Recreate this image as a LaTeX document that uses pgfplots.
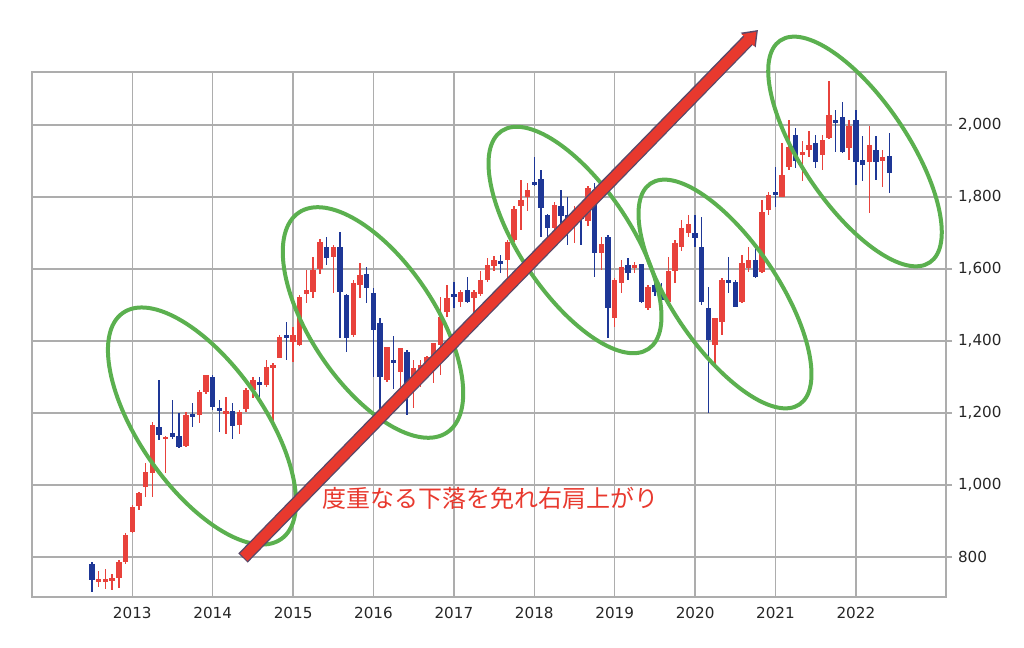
\documentclass[border=0pt]{standalone}
\usepackage{fontspec}
\setmainfont{DejaVu Sans}
\newfontfamily\jpfont{Noto Sans CJK JP}
\usepackage{pgfplots}
\pgfplotsset{compat=1.18}
\usepackage{pgfplotstable}
\usetikzlibrary{arrows.meta}

\definecolor{upred}{HTML}{E8423C}
\definecolor{downblue}{HTML}{1E3796}
\definecolor{gridgray}{HTML}{ADADAD}
\definecolor{ellgreen}{HTML}{5BB04F}
\definecolor{arrred}{HTML}{E8392E}
\definecolor{arrdark}{HTML}{5A4868}

% month index m: months since Jan 2012 (Jul 2012 = 6)
\pgfplotstableread{
m O H L C
7 732 762 718 738
8 731 768 710 740
9 734 754 708 743
10 742 791 713 786
11 786 866 780 861
12 870 944 866 940
13 941 981 930 977
14 995 1062 967 1037
15 1032 1176 967 1166
17 1127 1137 1032 1134
20 1108 1203 1106 1194
22 1194 1264 1171 1259
23 1259 1305 1254 1305
26 1199 1245 1143 1204
28 1167 1208 1143 1204
29 1210 1270 1203 1264
30 1264 1301 1241 1292
32 1278 1347 1273 1329
33 1324 1338 1176 1333
34 1354 1417 1352 1412
36 1398 1440 1342 1416
37 1389 1528 1386 1523
38 1531 1597 1505 1542
39 1537 1632 1518 1597
40 1600 1682 1585 1676
42 1634 1667 1532 1660
45 1417 1569 1412 1560
46 1555 1616 1520 1583
50 1293 1384 1287 1384
52 1315 1380 1273 1380
54 1301 1347 1213 1324
55 1320 1347 1273 1333
56 1329 1358 1296 1356
57 1338 1393 1282 1393
58 1389 1523 1305 1467
59 1481 1555 1467 1518
61 1509 1542 1495 1537
63 1518 1541 1477 1537
64 1530 1593 1524 1570
65 1570 1630 1565 1612
66 1609 1635 1593 1624
68 1625 1681 1574 1674
69 1681 1774 1676 1766
70 1774 1846 1709 1792
71 1801 1838 1760 1820
75 1713 1785 1705 1778
78 1735 1774 1672 1755
80 1732 1830 1720 1824
82 1644 1688 1598 1670
84 1463 1575 1440 1570
85 1560 1625 1532 1606
87 1602 1620 1590 1611
89 1491 1556 1486 1551
92 1509 1634 1505 1593
93 1593 1681 1560 1671
94 1660 1735 1650 1715
95 1700 1750 1690 1725
99 1389 1465 1333 1463
100 1454 1574 1417 1569
103 1509 1639 1505 1616
104 1602 1662 1592 1625
106 1592 1791 1590 1759
107 1764 1815 1750 1806
109 1801 1949 1800 1861
110 1884 2014 1875 1940
112 1917 1954 1843 1926
113 1931 1982 1912 1945
115 1917 1972 1875 1959
116 1963 2121 1960 2028
119 1935 2014 1903 1996
122 1898 1996 1755 1945
124 1901 1931 1829 1910
}\uptable

\pgfplotstableread{
m O H L C
6 780 785 703 736
16 1162 1291 1125 1139
18 1145 1236 1129 1132
19 1136 1199 1104 1105
21 1196 1227 1162 1192
24 1301 1305 1208 1217
25 1212 1236 1148 1208
27 1206 1227 1127 1164
31 1283 1301 1236 1280
35 1414 1454 1347 1410
41 1662 1688 1611 1630
43 1660 1704 1407 1537
44 1528 1530 1370 1407
47 1586 1606 1505 1546
48 1532 1546 1301 1430
49 1449 1463 1204 1301
51 1345 1414 1268 1339
53 1370 1375 1194 1273
60 1530 1565 1491 1522
62 1541 1577 1506 1509
67 1620 1639 1588 1614
72 1840 1912 1830 1836
73 1850 1874 1690 1769
74 1750 1752 1685 1713
76 1774 1820 1709 1746
77 1750 1801 1667 1740
79 1755 1775 1667 1740
81 1820 1838 1579 1644
83 1688 1695 1408 1491
86 1611 1630 1570 1588
88 1614 1615 1505 1509
90 1556 1565 1525 1536
91 1540 1560 1505 1515
96 1701 1750 1662 1685
97 1662 1745 1500 1509
98 1491 1551 1199 1403
101 1568 1634 1532 1562
102 1565 1570 1495 1495
105 1625 1657 1574 1579
108 1812 1884 1773 1808
111 1972 1991 1880 1900
114 1949 1972 1880 1898
117 2012 2042 1926 2005
118 2023 2065 1923 1926
120 2014 2042 1834 1898
121 1903 1968 1843 1889
123 1931 1968 1847 1898
125 1914 1977 1810 1866
}\downtable

\begin{document}
\begin{tikzpicture}
\useasboundingbox (-16pt,-25.5pt) rectangle (496pt,298.5pt);
\begin{axis}[
  at={(0pt,0pt)}, anchor=south west,
  scale only axis, width=457pt, height=262.5pt,
  xmin=-2.97, xmax=133.45, ymin=689, ymax=2147,
  xtick={12,24,...,120},
  xticklabels={2013,2014,2015,2016,2017,2018,2019,2020,2021,2022},
  ytick={800,1000,...,2000},
  xtick pos=bottom, ytick pos=right, yticklabel pos=right,
  grid=major,
  major grid style={gridgray, line width=0.75pt},
  axis line style={gridgray, line width=0.75pt},
  tick align=outside, major tick length=3pt,
  xtick style={draw=none},
  ytick style={gridgray, line width=0.75pt},
  ticklabel style={font=\fontsize{7.6}{9}\selectfont, text=black!85},
  xticklabel style={yshift=1.5pt},
  yticklabel style={xshift=-0.5pt},
  /pgf/number format/.cd, 1000 sep={,}, assume math mode=true,
  /pgfplots/.cd,
  clip=false,
]
% wicks
\addplot[draw=none, forget plot, error bars/.cd, y dir=both, y explicit, error mark=none,
  error bar style={draw=upred, line width=0.7pt}]
  table[x=m, y expr={(\thisrow{H}+\thisrow{L})/2}, y error expr={(\thisrow{H}-\thisrow{L})/2}] {\uptable};
\addplot[draw=none, forget plot, error bars/.cd, y dir=both, y explicit, error mark=none,
  error bar style={draw=downblue, line width=0.7pt}]
  table[x=m, y expr={(\thisrow{H}+\thisrow{L})/2}, y error expr={(\thisrow{H}-\thisrow{L})/2}] {\downtable};
% bodies
\addplot[draw=none, forget plot, error bars/.cd, y dir=both, y explicit, error mark=none,
  error bar style={draw=upred, line width=2.7pt}]
  table[x=m, y expr={(\thisrow{O}+\thisrow{C})/2}, y error expr={max(abs(\thisrow{C}-\thisrow{O})/2,4)}] {\uptable};
\addplot[draw=none, forget plot, error bars/.cd, y dir=both, y explicit, error mark=none,
  error bar style={draw=downblue, line width=2.7pt}]
  table[x=m, y expr={(\thisrow{O}+\thisrow{C})/2}, y error expr={max(abs(\thisrow{C}-\thisrow{O})/2,4)}] {\downtable};
\end{axis}
% ellipses
\begin{scope}[ellgreen, line width=2pt]
\draw[rotate around={-55:(85pt,85.5pt)}] (85pt,85.5pt) ellipse [x radius=69pt, y radius=31pt];
\draw[rotate around={-56:(170.5pt,137.25pt)}] (170.5pt,137.25pt) ellipse [x radius=66.3pt, y radius=31pt];
\draw[rotate around={-56:(271.5pt,178.5pt)}] (271.5pt,178.5pt) ellipse [x radius=65.7pt, y radius=27.5pt];
\draw[rotate around={-56:(346.5pt,151.5pt)}] (346.5pt,151.5pt) ellipse [x radius=66.6pt, y radius=26.5pt];
\draw[rotate around={-56:(411.5pt,222.75pt)}] (411.5pt,222.75pt) ellipse [x radius=66.9pt, y radius=26.5pt];
\end{scope}
% arrow
\draw[arrdark, line width=6.6pt, -{Triangle[length=7pt, width=10pt]}] (105.5pt,19.5pt) -- (363pt,283.5pt);
\draw[arrred, line width=5.2pt, -{Triangle[length=6pt, width=8.4pt]}] (105.9pt,19.9pt) -- (362.2pt,282.6pt);
% text
\node[text=arrred, font=\jpfont\fontsize{12}{14}\selectfont, anchor=west, inner sep=0pt] at (145pt,49.5pt) {度重なる下落を免れ右肩上がり};
\end{tikzpicture}
\end{document}
